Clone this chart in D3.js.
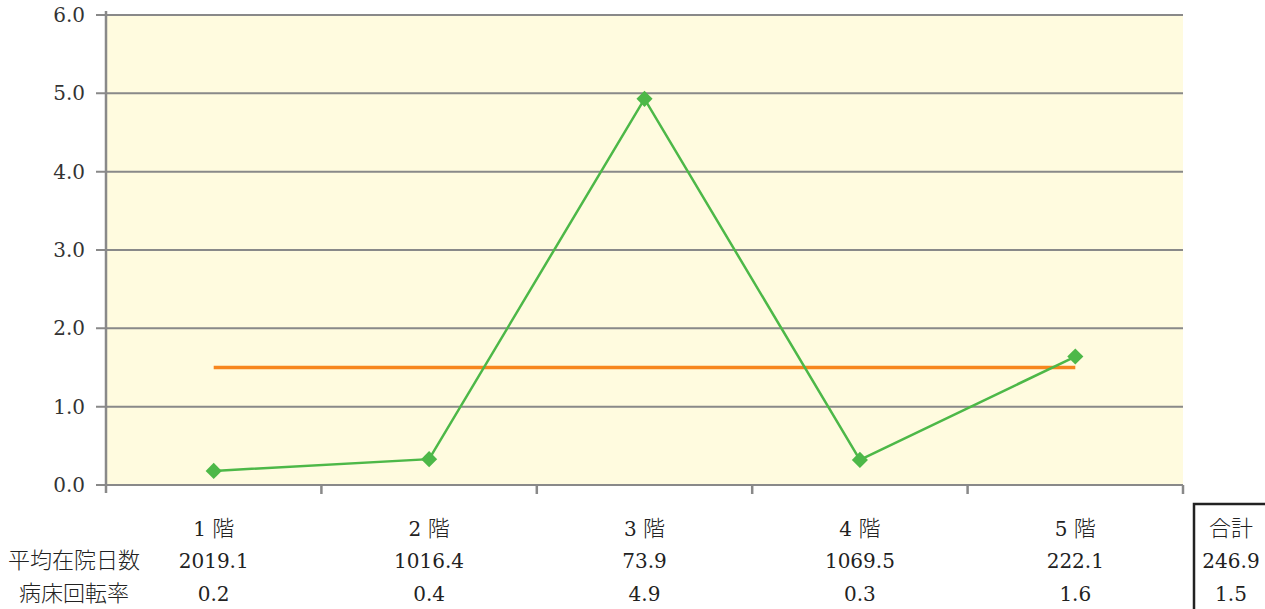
<!DOCTYPE html>
<html><head><meta charset="utf-8">
<script src="https://cdn.jsdelivr.net/npm/d3@7"></script>
<style>body{margin:0;background:#fff}svg{display:block}</style>
</head><body>
<script>
const categories = ["1 階","2 階","3 階","4 階","5 階"];
const turnoverPoints = [0.18, 0.33, 4.93, 0.32, 1.64];
const avgStayLabels = ["2019.1","1016.4","73.9","1069.5","222.1"];
const turnoverLabels = ["0.2","0.4","4.9","0.3","1.6"];
const totalStay = "246.9";
const totalTurnover = 1.5;
const totalTurnoverLabel = "1.5";
const yTicks = [0,1,2,3,4,5,6];
const rowLabels = ["平均在院日数","病床回転率"];
const totalLabel = "合計";

const W=1265,H=609;
const font = "'DejaVu Serif','Liberation Serif','Noto Sans CJK JP',serif";
const cjk = "'Noto Sans CJK JP',sans-serif";
const svg=d3.select("body").append("svg").attr("width",W).attr("height",H);
const x=d3.scaleBand().domain(categories).range([106,1183]);
const y=d3.scaleLinear().domain([0,6]).range([485,15]);
const grey="#898989";

svg.append("rect").attr("x",106).attr("y",15).attr("width",1077).attr("height",470).attr("fill","#FFFBDF");

svg.selectAll(".g").data(yTicks).join("line")
  .attr("x1",96).attr("x2",1183).attr("y1",d=>y(d)).attr("y2",d=>y(d))
  .attr("stroke",grey).attr("stroke-width",2);
svg.append("line").attr("x1",106).attr("x2",106).attr("y1",11).attr("y2",493).attr("stroke",grey).attr("stroke-width",2.5);
const bounds = categories.map(c=>x(c)).concat([x.range()[1]]);
svg.selectAll(".bt").data(bounds.slice(1)).join("line")
  .attr("x1",d=>d).attr("x2",d=>d).attr("y1",485).attr("y2",494).attr("stroke",grey).attr("stroke-width",2.5);
svg.selectAll(".yl").data(yTicks).join("text")
  .attr("x",85).attr("y",d=>y(d)+7).attr("text-anchor","end")
  .attr("font-family",font).attr("font-size",20).attr("fill","#333")
  .text(d=>d.toFixed(1));

const cx=c=>x(c)+x.bandwidth()/2;
svg.append("line").attr("x1",cx(categories[0])).attr("x2",cx(categories[4]))
  .attr("y1",y(totalTurnover)).attr("y2",y(totalTurnover))
  .attr("stroke","#F7861E").attr("stroke-width",3.5);
svg.append("path").datum(turnoverPoints)
  .attr("d",d3.line().x((d,i)=>cx(categories[i])).y(d=>y(d)))
  .attr("fill","none").attr("stroke","#4DB848").attr("stroke-width",2.5);
svg.selectAll(".m").data(turnoverPoints).join("path")
  .attr("d",d3.symbol(d3.symbolSquare,130)())
  .attr("transform",(d,i)=>`translate(${cx(categories[i])},${y(d)}) rotate(45)`)
  .attr("fill","#4DB848");

const rowsY=[536,568,601];
const tf=(sel)=>sel.attr("font-family",font).attr("font-size",20).attr("fill","#222").attr("text-anchor","middle");
const catText = svg.selectAll(".c").data(categories).join("text").call(tf).attr("x",d=>cx(d)).attr("y",rowsY[0]);
catText.append("tspan").text(d=>d.split(" ")[0]+" ");
catText.append("tspan").attr("font-family",cjk).attr("font-size",22).attr("font-weight",300).text(d=>d.split(" ")[1]);
svg.selectAll(".s").data(avgStayLabels).join("text").call(tf).attr("x",(d,i)=>cx(categories[i])).attr("y",rowsY[1]).text(d=>d);
svg.selectAll(".t").data(turnoverLabels).join("text").call(tf).attr("x",(d,i)=>cx(categories[i])).attr("y",rowsY[2]).text(d=>d);
svg.append("text").call(tf).attr("x",74).attr("y",rowsY[1]).attr("font-family",cjk).attr("font-size",22).attr("font-weight",300).text(rowLabels[0]);
svg.append("text").call(tf).attr("x",74).attr("y",rowsY[2]).attr("font-family",cjk).attr("font-size",22).attr("font-weight",300).text(rowLabels[1]);
svg.append("path").attr("d","M1194,611 V504 H1268").attr("fill","none").attr("stroke","#222").attr("stroke-width",2.5);
svg.append("text").call(tf).attr("x",1231).attr("y",rowsY[0]).attr("font-family",cjk).attr("font-size",22).attr("font-weight",300).text(totalLabel);
svg.append("text").call(tf).attr("x",1231).attr("y",rowsY[1]).text(totalStay);
svg.append("text").call(tf).attr("x",1231).attr("y",rowsY[2]).text(totalTurnoverLabel);
</script>
</body></html>
